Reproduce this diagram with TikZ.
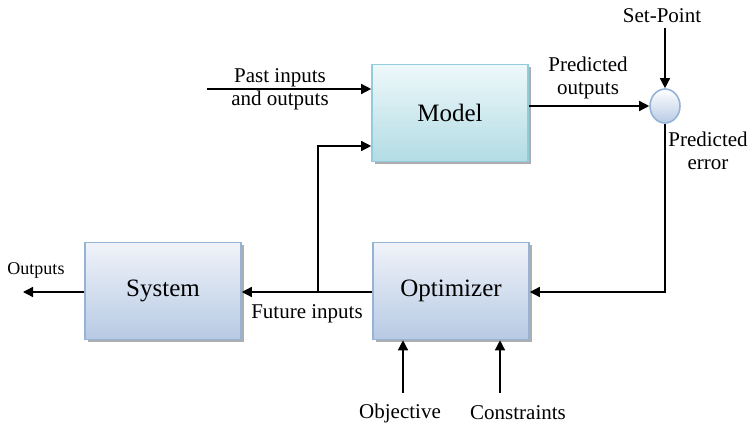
\documentclass[tikz,border=0pt]{standalone}
\usepackage{fontspec}
\setmainfont{Liberation Serif}
\usetikzlibrary{arrows.meta,shapes.geometric,shadows}
\definecolor{modeltop}{HTML}{EEF8FA}
\definecolor{modelbot}{HTML}{B2DCE4}
\definecolor{modeledge}{HTML}{93CDDD}
\definecolor{blocktop}{HTML}{F0F3F9}
\definecolor{blockbot}{HTML}{B7CAE4}
\definecolor{blockedge}{HTML}{95B3D7}
\begin{document}
\begin{tikzpicture}[x=0.5pt,y=-0.5pt,
	block/.style={draw=blockedge, line width=0.8pt, top color=blocktop, bottom color=blockbot,
		minimum width=78pt, minimum height=48.5pt, inner sep=0pt,
		drop shadow={shadow xshift=1.5pt, shadow yshift=-1.5pt, fill=black!40, opacity=0.8},
		font=\fontsize{12.5}{15}\selectfont},
	modelblock/.style={block, draw=modeledge, top color=modeltop, bottom color=modelbot},
	sumnode/.style={ellipse, draw=blockedge, line width=0.8pt, inner sep=0pt,
		minimum width=15pt, minimum height=17pt, top color=white, bottom color=blockbot},
	lbl/.style={font=\fontsize{10.5}{11.5}\selectfont, align=center, inner sep=0pt},
	arr/.style={line width=0.7pt, -{Triangle[length=5pt,width=5pt]}},
	line/.style={line width=0.7pt}]
	\useasboundingbox (0,0) rectangle (754,426);
	% blocks
	\node[modelblock] (model) at (450,113) {Model};
	\node[block] (system) at (163,291) {System};
	\node[block] (optim) at (451,291) {Optimizer};
	\node[sumnode] (sum) at (665,106) {};
	% labels
	\node[lbl] (lblpast) at (280,89) {Past inputs\\and outputs};
	\node[lbl] (lblpred) at (588,78) {Predicted\\outputs};
	\node[lbl] (lblsp) at (662,16) {Set-Point};
	\node[lbl, anchor=west] (lblerr) at (668,151) {Predicted\\error};
	\node[lbl] (lblfuture) at (307,314) {Future inputs};
	\node[lbl, font=\fontsize{9}{10}\selectfont] (lblout) at (36,270) {Outputs};
	\node[lbl] (lblobj) at (400,413) {Objective};
	\node[lbl] (lblcon) at (518,413) {Constraints};
	% free ends
	\coordinate (pastin) at (207,89);
	\coordinate (branch) at (318,292);
	\coordinate (fb) at (318,146);
	\coordinate (sp) at (665,28);
	\coordinate (out) at (23,292);
	\coordinate (obj) at (403,393);
	\coordinate (con) at (500,393);
	% connectors
	\draw[arr] (pastin) -- (model.west |- pastin);
	\draw[arr] (branch) |- (model.west |- fb);
	\draw[arr] (model.east |- sum) -- (sum.west);
	\draw[arr] (sp) -- (sum.north);
	\draw[arr] (sum.south) |- (optim.east |- branch);
	\draw[arr] (optim.west |- branch) -- (system.east |- branch);
	\draw[arr] (system.west |- branch) -- (out);
	\draw[arr] (obj) -- (obj |- optim.south);
	\draw[arr] (con) -- (con |- optim.south);
\end{tikzpicture}
\end{document}
